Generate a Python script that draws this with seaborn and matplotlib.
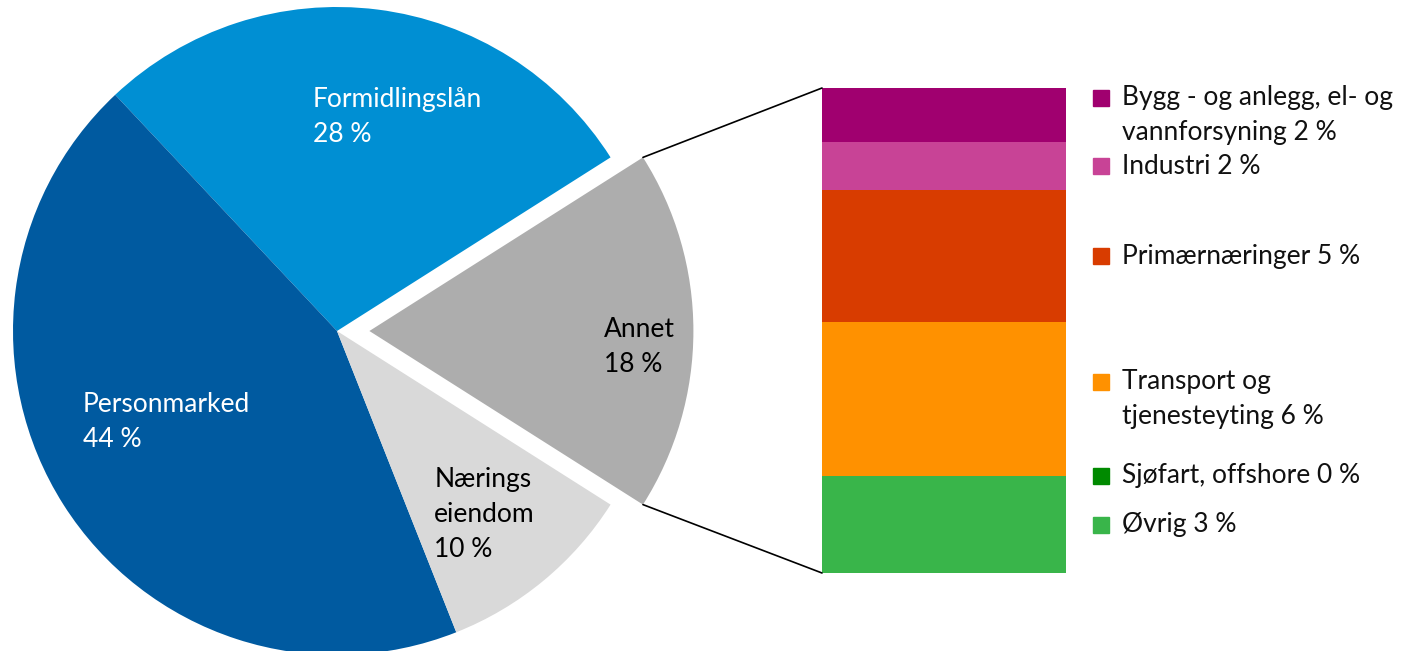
import numpy as np
import matplotlib
matplotlib.use("Agg")
import matplotlib.pyplot as plt
import matplotlib.transforms as mtransforms
from matplotlib.patches import ConnectionPatch
import seaborn as sns

# Pie: main segments (share of total, %)
pie_labels = ["Annet", "Formidlingslån", "Personmarked", "Nærings\neiendom"]
pie_values = [18, 28, 44, 10]
pie_colors = ["#adadad", "#008fd3", "#005aa0", "#d9d9d9"]
pie_text_colors = ["#000000", "#ffffff", "#ffffff", "#000000"]

# Breakdown of "Annet" (bottom to top in the stacked bar)
sub_labels = ["Øvrig 3 %", "Sjøfart, offshore 0 %", "Transport og\ntjenesteyting 6 %",
              "Primærnæringer 5 %", "Industri 2 %", "Bygg - og anlegg, el- og\nvannforsyning 2 %"]
sub_values = [3.6, 0.0, 5.7, 4.9, 1.8, 2.0]
sub_colors = ["#39b54a", "#008a00", "#ff9100", "#d83c00", "#c84396", "#a0006f"]

sns.set_style("white")
plt.rcParams["font.family"] = ["Lato", "DejaVu Sans"]

W, H = 1401, 651
FS = 19
LS = 1.5
fig = plt.figure(figsize=(W / 100, H / 100), dpi=100)

# ---- pie ----
cx, cy, R = 337, 331, 324
ax_pie = fig.add_axes([(cx - R) / W, (H - cy - R) / H, 2 * R / W, 2 * R / H])
half = pie_values[0] / sum(pie_values) * 360 / 2
wedges, _ = ax_pie.pie(pie_values, colors=pie_colors, startangle=-half, counterclock=True,
                       explode=[0.1, 0, 0, 0], radius=1,
                       wedgeprops=dict(linewidth=0))
ax_pie.set_xlim(-1, 1)
ax_pie.set_ylim(-1, 1)
ax_pie.set_aspect("equal")
ax_pie.axis("off")

# label anchors (left edge, vertical centre) in pie units
text_pos = {"Annet": (0.825, -0.05), "Formidlingslån": (-0.074, 0.66),
            "Personmarked": (-0.785, -0.28), "Nærings\neiendom": (0.30, -0.565)}
for lab, val, tc in zip(pie_labels, pie_values, pie_text_colors):
    x, y = text_pos[lab]
    ax_pie.text(x, y, f"{lab}\n{val} %", color=tc, fontsize=FS, ha="left", va="center",
                linespacing=LS)

# ---- stacked bar ----
bx0, bx1, by0, by1 = 822, 1066, 88, 573
ax_bar = fig.add_axes([bx0 / W, (H - by1) / H, (bx1 - bx0) / W, (by1 - by0) / H])
bottom = 0
centres = []
for v, c in zip(sub_values, sub_colors):
    ax_bar.bar(0, v, bottom=bottom, width=1.0, color=c, linewidth=0)
    centres.append(bottom + v / 2)
    bottom += v
ax_bar.set_xlim(-0.5, 0.5)
ax_bar.set_ylim(0, sum(sub_values))
ax_bar.axis("off")

# legend-like labels next to the bar
blend = mtransforms.blended_transform_factory(ax_bar.transAxes, ax_bar.transData)
for lab, c, yc in zip(sub_labels, sub_colors, centres):
    nlines = lab.count("\n") + 1
    ax_bar.text(1.23, yc, lab, transform=blend, fontsize=FS, ha="left", va="center",
                color="#111111", linespacing=LS)
    sq_tr = mtransforms.offset_copy(blend, fig=fig, y=(nlines - 1) * 12.2, units="points")
    ax_bar.plot([1.143], [yc], marker="s", markersize=12, color=c, transform=sq_tr,
                clip_on=False, linestyle="none")

# connector lines from the exploded wedge to the bar
w = wedges[0]
for ang, ybar in [(w.theta2, 1), (w.theta1, 0)]:
    px = w.center[0] + w.r * np.cos(np.radians(ang))
    py = w.center[1] + w.r * np.sin(np.radians(ang))
    con = ConnectionPatch(xyA=(px, py), coordsA=ax_pie.transData,
                          xyB=(0, ybar), coordsB=ax_bar.transAxes,
                          color="black", linewidth=1.2)
    fig.add_artist(con)

fig.savefig("out.png", dpi=100)
